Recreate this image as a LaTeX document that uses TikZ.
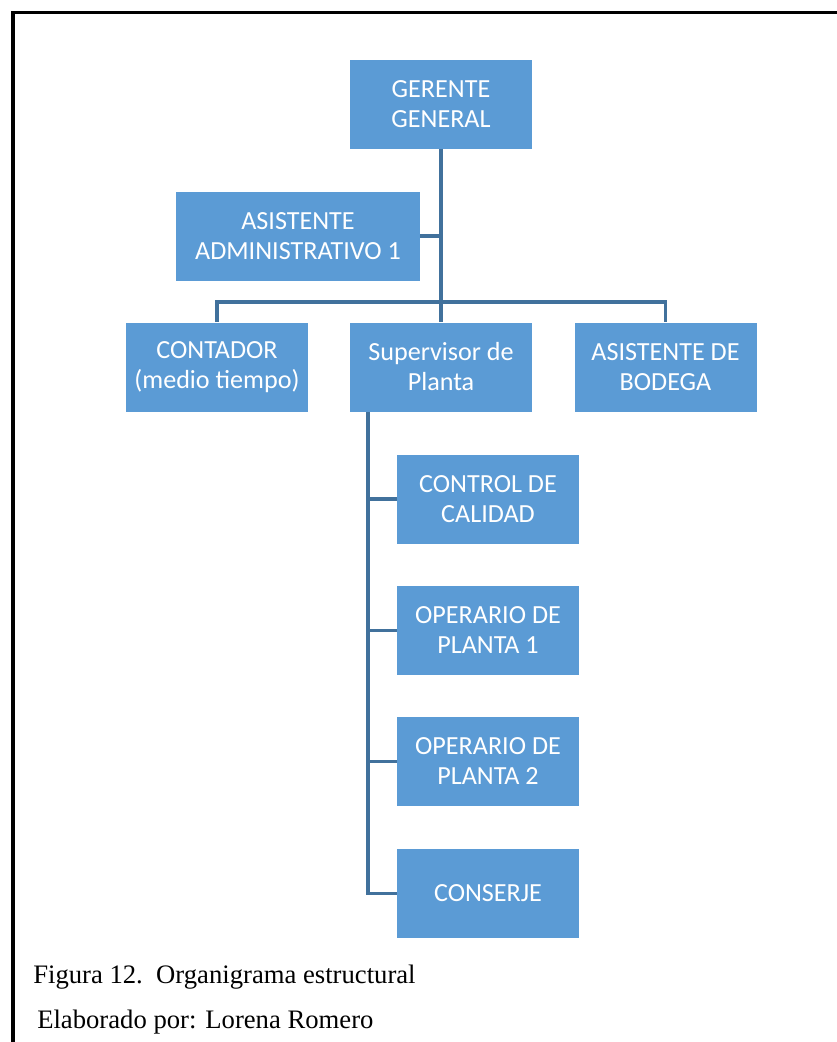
\documentclass[tikz,border=0pt]{standalone}
\usepackage{fontspec}
\setmainfont{Liberation Serif}
\newfontfamily\boxfont{Carlito}
\usetikzlibrary{positioning}
\definecolor{boxblue}{HTML}{5B9BD5}
\definecolor{linkblue}{HTML}{41719C}
\begin{document}
\begin{tikzpicture}[x=0.75pt,y=-0.75pt,
  unit/.style={rectangle,fill=boxblue,text=white,align=center,minimum width=136.5pt,minimum height=66.75pt,inner sep=0pt,font=\boxfont\fontsize{19.6}{22.5}\selectfont},
  link/.style={draw=linkblue,line width=2.3pt},
  captext/.style={anchor=base west,inner sep=0pt,font=\fontsize{20}{23}\selectfont}]
\clip (0,0) rectangle (837,1042);
\draw[line width=2.4pt] (13,12.5) rectangle (880,1100);
% top levels
\node[unit] (gerente) at (441,104) {GERENTE\\GENERAL};
\node[unit,minimum width=183pt] (asistente) at (298,236) {ASISTENTE\\ADMINISTRATIVO 1};
\node[unit] (contador) at (217,367) {CONTADOR\\(medio tiempo)};
\node[unit] (supervisor) at (441,367) {Supervisor de\\Planta};
\node[unit] (bodega) at (665.5,367) {ASISTENTE DE\\BODEGA};
% under the supervisor
\node[unit] (calidad) at (488,499) {CONTROL DE\\CALIDAD};
\node[unit] (operario1) at (488,630.5) {OPERARIO DE\\PLANTA 1};
\node[unit] (operario2) at (488,761.5) {OPERARIO DE\\PLANTA 2};
\node[unit] (conserje) at (488,893.5) {CONSERJE};
% connectors
\coordinate (bar) at (441,302); \coordinate (spine) at (368,412);
\draw[link] (gerente.south) -- (supervisor.north);
\draw[link] (contador.north) |- (bar) -| (bodega.north);
\draw[link] (asistente.east) -- (asistente.east -| gerente.south);
\draw[link] (spine) |- (conserje.west);
\foreach \n in {calidad,operario1,operario2} \draw[link] (spine |- \n.west) -- (\n.west);
% caption
\node[captext] (figura) at (33,983) {Figura 12.\ \ Organigrama estructural};
\node[captext] (autor) at (37,1028) {Elaborado por: Lorena Romero};
\end{tikzpicture}
\end{document}
